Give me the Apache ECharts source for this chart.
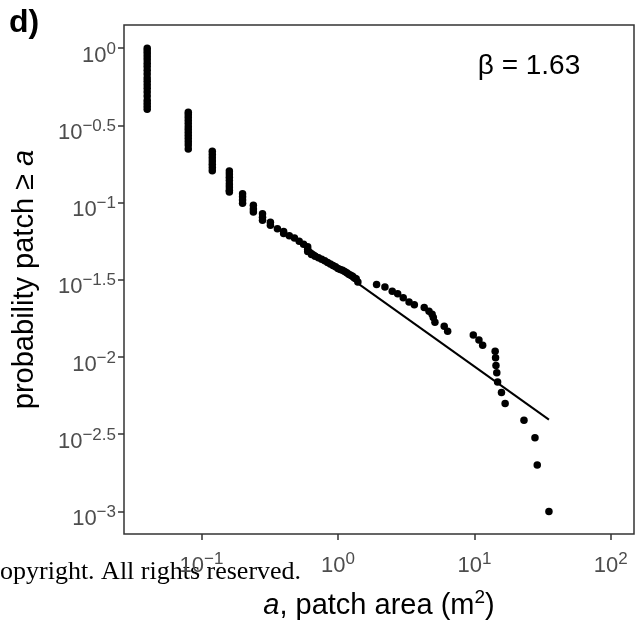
<!DOCTYPE html>
<html>
<head>
    <meta charset="UTF-8">
    <title>patch area distribution</title>
    <script src="https://cdn.jsdelivr.net/npm/echarts@6.0.0/dist/echarts.min.js"></script>
    <style>
        html, body { margin: 0; padding: 0; background: #fff; }
        #chart { width: 637px; height: 622px; }
    </style>
</head>
<body>
    <div id="chart"></div>
    <script>
        // smallest patches: many patches share one area, so they stack up
        const stackArea = [0.04, 0.08, 0.12, 0.16, 0.20, 0.24, 0.28];
        const stackProb = [
            [1.00, 0.96, 0.92, 0.88, 0.84, 0.80, 0.76, 0.72, 0.68, 0.64, 0.61, 0.58, 0.55, 0.52, 0.49, 0.46, 0.44, 0.42, 0.402],
            [0.385, 0.37, 0.355, 0.34, 0.325, 0.31, 0.297, 0.284, 0.272, 0.26, 0.248, 0.236, 0.222],
            [0.215, 0.205, 0.195, 0.186, 0.177, 0.169, 0.161],
            [0.160, 0.153, 0.146, 0.139, 0.132, 0.126, 0.120, 0.117],
            [0.114, 0.109, 0.104, 0.099],
            [0.096, 0.091, 0.087],
            [0.0846, 0.0805, 0.0768]
        ];
        // middle part, one point per area
        const midArea = [0.32, 0.32, 0.36, 0.40, 0.40, 0.44, 0.48, 0.52, 0.56, 0.60, 0.60, 0.60, 0.64, 0.68, 0.72, 0.76,
            0.80, 0.84, 0.88, 0.92, 0.96, 1.00, 1.04, 1.08, 1.12, 1.16, 1.20, 1.24, 1.28, 1.32, 1.36, 1.40];
        const midProb = [0.0745, 0.0713, 0.0678, 0.0651, 0.0630, 0.0609, 0.0589, 0.0561, 0.0537, 0.0517, 0.0498, 0.0483,
            0.0462, 0.0449, 0.0439, 0.0429, 0.0420, 0.0410, 0.0401, 0.0392, 0.0384, 0.0375, 0.0369, 0.0364, 0.0358,
            0.0351, 0.0343, 0.0338, 0.0333, 0.0325, 0.0321, 0.0306];
        // largest patches
        const tailArea = [1.92, 2.21, 2.50, 2.74, 3.01, 3.32, 3.63, 4.29, 4.65, 4.90, 5.00, 5.14, 6.01, 6.37, 9.82, 10.8,
            11.5, 14.2, 14.3, 14.4, 14.6, 14.8, 15.8, 16.8, 23.1, 27.8, 28.9, 35.2];
        const tailProb = [0.0295, 0.0284, 0.0267, 0.0257, 0.0242, 0.0227, 0.0218, 0.0209, 0.0198, 0.0189, 0.0180, 0.0168,
            0.0158, 0.0147, 0.0139, 0.0129, 0.0119, 0.0109, 0.0099, 0.0088, 0.0079, 0.0069, 0.0059, 0.0050, 0.0039,
            0.0030, 0.0020, 0.0010];
        // fitted power law (beta = 1.63), end points
        const fitArea = [0.5, 35.2];
        const fitProb = [0.0574, 0.00393];
        // tick positions, as powers of ten
        const xTickExp = [-1, 0, 1, 2];
        const yTickExp = [-3, -2.5, -2, -1.5, -1, -0.5, 0];

        const lg = Math.log10;
        const points = [];
        stackArea.forEach((a, i) => stackProb[i].forEach(p => points.push([lg(a), lg(p)])));
        midArea.forEach((a, i) => points.push([lg(a), lg(midProb[i])]));
        tailArea.forEach((a, i) => points.push([lg(a), lg(tailProb[i])]));
        const fitLine = fitArea.map((a, i) => [lg(a), lg(fitProb[i])]);

        const font = 'Liberation Sans, Arial, sans-serif';
        const tickGray = '#4D4D4D';
        const powRich = {
            b: { fontSize: 22, lineHeight: 26, verticalAlign: 'bottom', color: tickGray, fontFamily: font },
            s: { fontSize: 17, lineHeight: 4, verticalAlign: 'top', color: tickGray, fontFamily: font }
        };
        const powLabel = v => '{b|10}{s|' + String(v).replace('-', '\u2212') + '}';

        const chart = echarts.init(document.getElementById('chart'), null, { renderer: 'canvas' });
        chart.setOption({
            animation: false,
            backgroundColor: '#fff',
            grid: {
                left: 124, right: 3, top: 25, bottom: 88,
                show: true, borderColor: '#333', borderWidth: 1.5
            },
            xAxis: {
                type: 'value',
                min: -1.568,
                max: 2.170,
                axisLine: { show: false, onZero: false },
                splitLine: { show: false },
                axisTick: { customValues: xTickExp, length: 6, lineStyle: { color: '#333', width: 1.5 } },
                axisLabel: { customValues: xTickExp, margin: 17, formatter: powLabel, rich: powRich }
            },
            yAxis: {
                type: 'value',
                min: -3.146,
                max: 0.150,
                axisLine: { show: false, onZero: false },
                splitLine: { show: false },
                axisTick: { customValues: yTickExp, length: 6, lineStyle: { color: '#333', width: 1.5 } },
                axisLabel: { customValues: yTickExp, margin: 8, padding: [11, 0, 0, 0], formatter: powLabel, rich: powRich }
            },
            series: [
                {
                    type: 'line',
                    data: fitLine,
                    symbol: 'none',
                    lineStyle: { color: '#000', width: 2 },
                    silent: true
                },
                {
                    type: 'scatter',
                    data: points,
                    symbolSize: 7.5,
                    itemStyle: { color: '#000', opacity: 1 }
                }
            ],
            graphic: [
                {
                    type: 'text', left: 9, top: 7,
                    style: { text: 'd)', font: 'bold 32px ' + font, fill: '#000' }
                },
                {
                    type: 'text', x: 529, y: 66,
                    style: { text: '\u03b2 = 1.63', font: '28px ' + font, fill: '#000', align: 'center', verticalAlign: 'middle' }
                },
                {
                    type: 'text', x: 25, y: 279.5, rotation: Math.PI / 2,
                    style: {
                        text: '{n|probability patch \u2265 }{i|a}',
                        align: 'center', verticalAlign: 'middle',
                        rich: {
                            n: { fontSize: 29, fontFamily: font, fill: '#000' },
                            i: { fontSize: 29, fontFamily: font, fontStyle: 'italic', fill: '#000' }
                        }
                    }
                },
                {
                    type: 'text', x: 379, y: 604,
                    style: {
                        text: '{i|a}{n|, patch area (m}{s|2}{n|)}',
                        align: 'center', verticalAlign: 'middle',
                        rich: {
                            n: { fontSize: 29, lineHeight: 32, verticalAlign: 'bottom', fontFamily: font, fill: '#000' },
                            i: { fontSize: 29, lineHeight: 32, verticalAlign: 'bottom', fontFamily: font, fontStyle: 'italic', fill: '#000' },
                            s: { fontSize: 19, lineHeight: 8, verticalAlign: 'top', fontFamily: font, fill: '#000' }
                        }
                    }
                },
                {
                    type: 'text', x: 0, y: 572,
                    style: { text: 'opyright. All rights reserved.', font: '26px Liberation Serif, Times New Roman, serif', fill: '#000', verticalAlign: 'middle' }
                }
            ]
        });
    </script>
</body>
</html>
